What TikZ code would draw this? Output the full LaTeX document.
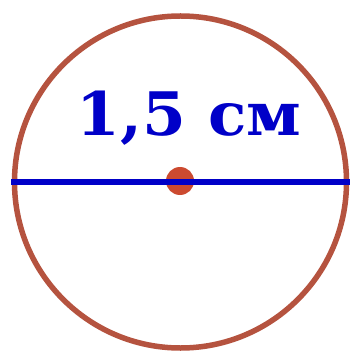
\documentclass[tikz,border=0pt]{standalone}
\usepackage{fontspec}
\setmainfont{DejaVu Serif}
\usetikzlibrary{positioning, calc}
\definecolor{cring}{HTML}{B5533F}
\definecolor{cdot}{HTML}{CC4A30}
\definecolor{cline}{HTML}{0000C8}
\tikzset{
  every picture/.style={x=1pt, y=-1pt},
  ring/.style={circle, draw=cring, line width=5.5pt, minimum size=332pt, inner sep=0pt},
  centre/.style={circle, fill=cdot, minimum size=28pt, inner sep=0pt},
  diam/.style={draw=cline, line width=5.5pt},
  label/.style={font=\fontsize{60}{64}\selectfont\bfseries, text=cline, anchor=base, inner sep=0pt},
}
\begin{document}
\begin{tikzpicture}
  \useasboundingbox (0,0) rectangle (354,355);
  \node[ring] (ring) at (180.5,182) {};
  \node[centre] (dot) at (180,181) {};
  % diameter
  \coordinate (lend) at (11,182);
  \coordinate (rend) at (350,182);
  \draw[diam] (lend) -- (rend);
  \node[label, xscale=1.05] (len) at (189,136) {1,5 см};
\end{tikzpicture}
\end{document}
